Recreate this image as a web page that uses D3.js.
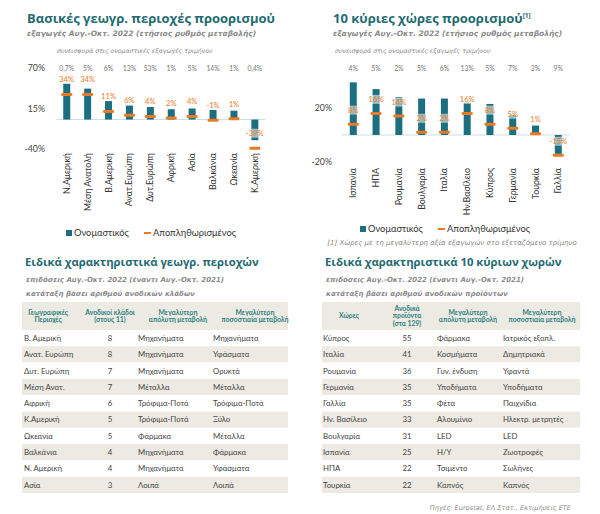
<!DOCTYPE html>
<html>
<head>
<meta charset="utf-8">
<script src="https://cdn.jsdelivr.net/npm/d3@7"></script>
<style>
  body { margin: 0; background: #fff; }
  svg { display: block; }
  .title { font-family: "Open Sans", sans-serif; font-weight: bold; fill: #1f6b72; }
  .sub { font-family: "DejaVu Sans", sans-serif; font-style: italic; fill: #8a8a8a; }
  .lbl { font-family: "Lato", sans-serif; }
</style>
</head>
<body>
<script>
// basic regions chart
var regions = ["Ν.Αμερική", "Μέση Ανατολή", "Β.Αμερική", "Ανατ.Ευρώπη", "Δυτ.Ευρώπη", "Αφρική", "Ασία", "Βαλκάνια", "Ωκεανία", "Κ.Αμερική"];
var regionNominal = [49, 42, 25, 19, 17, 14, 15, 13, 12, -28];
var regionReal = [34, 34, 11, 6, 4, 2, 4, -1, 1, -39];
var regionShare = ["0,7%", "5%", "6%", "13%", "53%", "1%", "5%", "14%", "1%", "0,4%"];
var regionTicks = [70, 15, -40];

// top 10 countries chart
var countries = ["Ισπανία", "ΗΠΑ", "Ρουμανία", "Βουλγαρία", "Ιταλία", "Ην.Βασίλειο", "Κύπρος", "Γερμανία", "Τουρκία", "Γαλλία"];
var countryNominal = [39, 34, 28, 27, 27, 24, 23, 15, 7, -14];
var countryReal = [8, 16, 14, 2, 2, 16, 8, 5, 1, -15];
var countryShare = ["4%", "5%", "2%", "5%", "6%", "13%", "5%", "7%", "3%", "9%"];
var countryTicks = [20, -20];

// tables
var regionTableHead = [["Γεωγραφικές", "Περιοχές"], ["Ανοδικοί κλάδοι", "(στους 11)"], ["Μεγαλύτερη", "απόλυτη μεταβολή"], ["Μεγαλύτερη", "ποσοστιαία μεταβολή"]];
var regionRows = [
    ["Β. Αμερική", "8", "Μηχανήματα", "Μηχανήματα"],
    ["Ανατ. Ευρώπη", "8", "Μηχανήματα", "Υφάσματα"],
    ["Δυτ. Ευρώπη", "7", "Μηχανήματα", "Ορυκτά"],
    ["Μέση Ανατ.", "7", "Μέταλλα", "Μέταλλα"],
    ["Αφρική", "6", "Τρόφιμα-Ποτά", "Τρόφιμα-Ποτά"],
    ["Κ.Αμερική", "5", "Τρόφιμα-Ποτά", "Ξύλο"],
    ["Ωκεανία", "5", "Φάρμακα", "Μέταλλα"],
    ["Βαλκάνια", "4", "Μηχανήματα", "Φάρμακα"],
    ["Ν. Αμερική", "4", "Μηχανήματα", "Υφάσματα"],
    ["Ασία", "3", "Λοιπά", "Λοιπά"]
];
var countryTableHead = [["Χώρες"], ["Ανοδικά", "προϊόντα", "(στα 129)"], ["Μεγαλύτερη", "απόλυτη μεταβολή"], ["Μεγαλύτερη", "ποσοστιαία μεταβολή"]];
var countryRows = [
    ["Κύπρος", "55", "Φάρμακα", "Ιατρικός εξοπλ."],
    ["Ιταλία", "41", "Κοσμήματα", "Δημητριακά"],
    ["Ρουμανία", "36", "Γυν. ένδυση", "Υφαντά"],
    ["Γερμανία", "35", "Υποδήματα", "Υποδήματα"],
    ["Γαλλία", "35", "Φέτα", "Παιχνίδια"],
    ["Ην. Βασίλειο", "33", "Αλουμίνιο", "Ηλεκτρ. μετρητές"],
    ["Βουλγαρία", "31", "LED", "LED"],
    ["Ισπανία", "25", "Η/Υ", "Ζωοτροφές"],
    ["ΗΠΑ", "22", "Τσιμέντο", "Σωλήνες"],
    ["Τουρκία", "22", "Καπνός", "Καπνός"]
];

var teal = "#1c6f80",
    orange = "#ec7a22",
    beige = "#eceae2";

var svg = d3.select("body").append("svg")
    .attr("width", 600)
    .attr("height", 514);

//draws one bar chart with nominal bars and real markers
function barChart(o) {
    var g = svg.append("g");
    var x = d3.scaleBand().domain(o.cats).range(o.xr);
    var y = d3.scaleLinear().domain(o.yd).range(o.yr);
    var bw = 7;

    g.append("text").attr("class", "title").attr("x", o.tx).attr("y", 23)
        .attr("font-size", 13).text(o.title)
        .append("tspan").attr("font-size", 6.5).attr("dy", -5).text(o.sup || "");
    g.append("text").attr("class", "sub").attr("x", o.tx).attr("y", 36)
        .attr("font-size", 7.5).attr("font-weight", "bold").text("εξαγωγές Αυγ.-Οκτ. 2022 (ετήσιος ρυθμός μεταβολής)");
    g.append("text").attr("class", "sub").attr("x", o.sx).attr("y", 53)
        .attr("font-size", 6.2).attr("fill", "#777").text("συνεισφορά στις ονομαστικές εξαγωγές τριμήνου");

    //y axis: labels only
    var axis = d3.axisLeft(y).tickValues(o.ticks).tickSize(0).tickFormat(function(d){ return d + "%"; });
    var ax = g.append("g").attr("transform", "translate(" + o.axx + ",0)").call(axis);
    ax.select(".domain").remove();
    ax.selectAll("text").attr("class", "lbl").attr("font-size", 8.8).attr("fill", "#444").attr("dx", 0);

    //zero line
    g.append("line").attr("x1", o.xr[0]).attr("x2", o.xr[1])
        .attr("y1", y(0)).attr("y2", y(0)).attr("stroke", "#c9dfe8").attr("stroke-width", 1);

    //contribution row
    g.selectAll(".share").data(o.share).enter().append("text")
        .attr("class", "lbl").attr("font-size", 6.8).attr("fill", "#777").attr("text-anchor", "middle")
        .attr("x", function(d, i){ return x(o.cats[i]) + x.bandwidth() / 2; })
        .attr("y", 71).text(function(d){ return d; });

    //nominal bars
    g.selectAll(".bar").data(o.nom).enter().append("rect")
        .attr("x", function(d, i){ return x(o.cats[i]) + x.bandwidth() / 2 - bw / 2; })
        .attr("y", function(d){ return Math.min(y(d), y(0)); })
        .attr("width", bw)
        .attr("height", function(d){ return Math.abs(y(d) - y(0)); })
        .attr("fill", teal);

    //real markers
    g.selectAll(".mark").data(o.real).enter().append("rect")
        .attr("x", function(d, i){ return x(o.cats[i]) + x.bandwidth() / 2 - 5.5; })
        .attr("y", function(d){ return y(d) - 1.5; })
        .attr("width", 11).attr("height", 3).attr("rx", 1.2)
        .attr("fill", orange);

    //real labels with light box
    var lab = g.selectAll(".rl").data(o.real).enter().append("g")
        .attr("transform", function(d, i){
            return "translate(" + (x(o.cats[i]) + x.bandwidth() / 2) + "," + (y(d) - o.lo) + ")";
        });
    lab.append("rect").attr("x", function(d){ return -(String(d).length * 3 + 4); })
        .attr("y", -4.5).attr("height", 9)
        .attr("width", function(d){ return 2 * (String(d).length * 3 + 4); })
        .attr("fill", "#fff").attr("opacity", 0.55);
    lab.append("text").attr("class", "lbl").attr("text-anchor", "middle").attr("dy", 2.8)
        .attr("font-size", 7.6).attr("fill", orange)
        .text(function(d){ return d + "%"; });

    //category labels rotated
    g.selectAll(".cat").data(o.cats).enter().append("text")
        .attr("class", "lbl").attr("font-size", 8.8).attr("fill", "#333").attr("text-anchor", "end")
        .attr("transform", function(d){
            return "translate(" + (x(d) + x.bandwidth() / 2 + 3) + "," + o.cy + ") rotate(-90)";
        })
        .text(function(d){ return d; });

    //legend
    var lg = g.append("g").attr("transform", "translate(" + o.lx + "," + o.ly + ")");
    lg.append("rect").attr("x", 0).attr("y", -5).attr("width", 6).attr("height", 6).attr("fill", teal);
    lg.append("text").attr("class", "lbl").attr("x", 8).attr("y", 1).attr("font-size", 9.3).attr("fill", "#333").text("Ονομαστικός");
    lg.append("rect").attr("x", 78).attr("y", -3).attr("width", 7).attr("height", 2).attr("fill", orange);
    lg.append("text").attr("class", "lbl").attr("x", 87).attr("y", 1).attr("font-size", 9.3).attr("fill", "#333").text("Αποπληθωρισμένος");
}

barChart({
    cats: regions, nom: regionNominal, real: regionReal, share: regionShare, ticks: regionTicks,
    xr: [56.3, 265.3], yd: [-40, 70], yr: [149, 68], axx: 48, lo: 15, cy: 153,
    title: "Βασικές γεωγρ. περιοχές προορισμού", tx: 27, sx: 57, lx: 66, ly: 235
});

barChart({
    cats: countries, nom: countryNominal, real: countryReal, share: countryShare, ticks: countryTicks,
    xr: [341.9, 569.7], yd: [-20, 20], yr: [162, 108], axx: 335, lo: 14, cy: 168,
    title: "10 κύριες χώρες προορισμού", sup: "[1]", tx: 333, sx: 335, lx: 360, ly: 231
});

svg.append("text").attr("class", "sub").attr("x", 452).attr("y", 245).attr("text-anchor", "middle")
    .attr("font-size", 7).attr("fill", "#555").text("[1] Χώρες με τη μεγαλύτερη αξία εξαγωγών στο εξεταζόμενο τρίμηνο");

//draws a table block
function table(o) {
    var g = svg.append("g");
    g.append("text").attr("class", "title").attr("x", o.x0 + 3).attr("y", 266).attr("font-size", 11.3).text(o.title);
    g.append("text").attr("class", "sub").attr("x", o.x0 + 4).attr("y", 282).attr("font-size", 7)
        .attr("font-weight", "bold").text("επιδόσεις Αυγ.-Οκτ. 2022 (έναντι Αυγ.-Οκτ. 2021)");
    g.append("text").attr("class", "sub").attr("x", o.x0 + 4).attr("y", 296).attr("font-size", 7)
        .attr("font-weight", "bold").text(o.rank);

    var rowH = 16.3, top = 330;
    g.append("rect").attr("x", o.x0).attr("y", 302).attr("width", o.w).attr("height", 28).attr("fill", beige);

    o.head.forEach(function(lines, c) {
        var t = g.append("text").attr("class", "lbl").attr("font-size", 6.8).attr("font-weight", "bold")
            .attr("fill", "#2a8080").attr("text-anchor", "middle").attr("x", o.hx[c]);
        var y0 = 316 - (lines.length - 1) * 3.6 + 2.3;
        lines.forEach(function(s, k) {
            t.append("tspan").attr("x", o.hx[c]).attr("y", y0 + k * 7.2).text(s);
        });
    });

    var rows = g.selectAll(".row").data(o.rows).enter().append("g")
        .attr("transform", function(d, i){ return "translate(0," + (top + i * rowH) + ")"; });
    rows.append("rect").attr("x", o.x0).attr("width", o.w).attr("height", rowH)
        .attr("fill", function(d, i){ return i % 2 ? beige : "#fff"; });
    [0, 1, 2, 3].forEach(function(c) {
        rows.append("text").attr("class", "lbl").attr("font-size", 7.8).attr("fill", "#444")
            .attr("x", o.cx[c]).attr("y", rowH / 2 + 2.8)
            .attr("text-anchor", c === 1 ? "middle" : "start")
            .text(function(d){ return d[c]; });
    });
}

table({
    x0: 22, w: 266, title: "Ειδικά χαρακτηριστικά γεωγρ. περιοχών", rank: "κατάταξη βάσει αριθμού ανοδικών κλάδων",
    head: regionTableHead, rows: regionRows, hx: [48, 110, 178, 255], cx: [24, 110, 138, 213]
});
table({
    x0: 322, w: 258, title: "Ειδικά χαρακτηριστικά 10 κύριων χωρών", rank: "κατάταξη βάσει αριθμού ανοδικών προϊόντων",
    head: countryTableHead, rows: countryRows, hx: [349, 407, 468, 542], cx: [323, 407, 437, 503]
});

svg.append("text").attr("class", "sub").attr("x", 571).attr("y", 510).attr("text-anchor", "end")
    .attr("font-size", 6.6).attr("fill", "#555").text("Πηγές: Eurostat, ΕΛ.Στατ., Εκτιμήσεις ΕΤΕ");
</script>
</body>
</html>
